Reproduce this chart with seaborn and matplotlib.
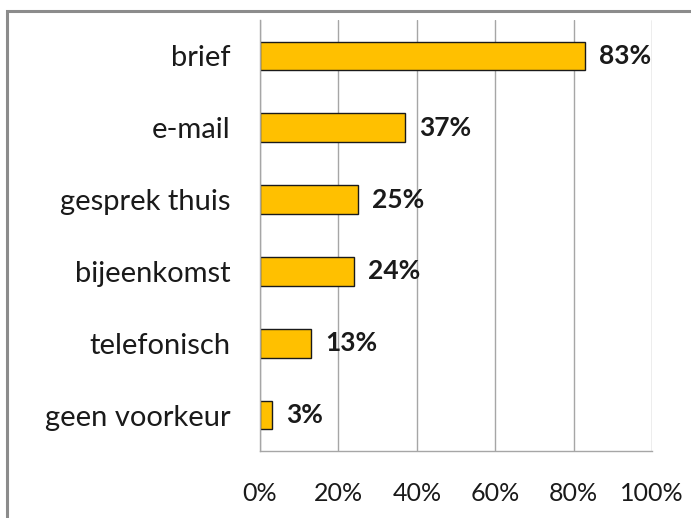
import numpy as np
import pandas as pd
import seaborn as sns
import matplotlib.pyplot as plt
from matplotlib.patches import Rectangle
from matplotlib.ticker import FixedLocator, PercentFormatter

categories = ['brief', 'e-mail', 'gesprek thuis', 'bijeenkomst', 'telefonisch', 'geen voorkeur']
values = [83, 37, 25, 24, 13, 3]
x_ticks = [0, 20, 40, 60, 80, 100]

df = pd.DataFrame({'kanaal': categories, 'pct': values})

sns.set_style('white')
plt.rcParams['font.family'] = ['Lato', 'DejaVu Sans']

fig = plt.figure(figsize=(6.91, 5.18), dpi=100)
ax = fig.add_axes([260/691, 1 - 451/518, (652 - 260)/691, (451 - 20)/518])

sns.barplot(data=df, x='pct', y='kanaal', orient='h', color='#FFC000',
            saturation=1, width=0.4, edgecolor='#1a1a1a', linewidth=1, ax=ax)

for i, v in enumerate(values):
    ax.text(v + 3.6, i, f'{v}%', va='center', ha='left', fontsize=19,
            fontweight='bold', color='#1a1a1a')

ax.set_xlim(0, 100)
ax.set_ylim(5.5, -0.5)
ax.set_xticks(x_ticks)
ax.xaxis.set_major_formatter(PercentFormatter(decimals=0))
ax.set_xlabel('')
ax.set_ylabel('')
ax.grid(axis='x', color='#a6a6a6', linewidth=1)
ax.set_axisbelow(True)

ax.yaxis.set_minor_locator(FixedLocator(np.arange(-0.5, 6, 1)))
ax.tick_params(axis='y', which='major', length=0, pad=21, labelsize=21, labelcolor='#1a1a1a')
ax.tick_params(axis='y', which='minor', length=10, color='#a6a6a6', direction='out')
ax.tick_params(axis='x', length=8, color='#a6a6a6', direction='out', pad=14,
               labelsize=18, labelcolor='#1a1a1a')

for side in ['top', 'right']:
    ax.spines[side].set_visible(False)
for side in ['left', 'bottom']:
    ax.spines[side].set_color('#a6a6a6')
    ax.spines[side].set_linewidth(1)

fig.patches.append(Rectangle((7/691, -0.1), 1.2, 1 - 11/518 + 0.1, transform=fig.transFigure,
                             fill=False, edgecolor='#8c8c8c', linewidth=2.2))

fig.savefig('out.png', dpi=100)
